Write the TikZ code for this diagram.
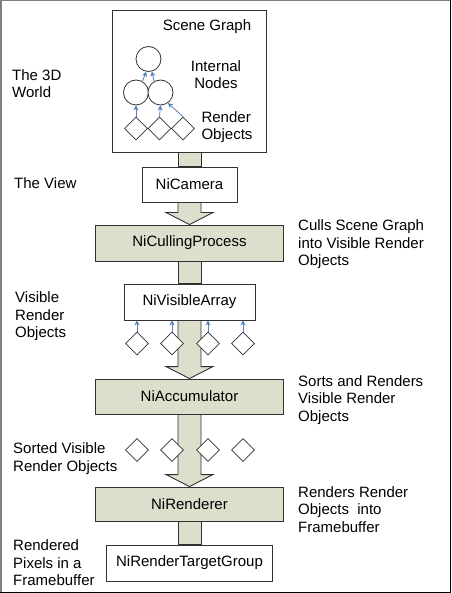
\documentclass[tikz,border=0pt]{standalone}
\usepackage{fontspec}
\setmainfont{Liberation Sans}
\usetikzlibrary{shapes.geometric, arrows.meta, calc, backgrounds}
\definecolor{boxfill}{RGB}{221,222,204}
\definecolor{linkblue}{RGB}{79,129,189}
\definecolor{edge}{RGB}{50,50,50}

% wide grey arrow from the bottom of #1 to the top of #2
\newcommand{\fatarrow}[2]{%
  \filldraw[shaft] ($(#1.south)+(-11.5,0)$) -- ($(#2.north)+(-11.5,-12)$) -- ($(#2.north)+(-23.5,-12)$)
    -- (#2.north) -- ($(#2.north)+(23.5,-12)$) -- ($(#2.north)+(11.5,-12)$) -- ($(#1.south)+(11.5,0)$);}
% plain grey bar between #1 and #2
\newcommand{\fatbar}[2]{%
  \filldraw[shaft] ($(#1.south)+(-11.5,0)$) -- ($(#2.north)+(-11.5,0)$) -- ($(#2.north)+(11.5,0)$) -- ($(#1.south)+(11.5,0)$);}

\begin{document}
\begin{tikzpicture}[x=1pt, y=-1pt, font=\fontsize{15}{17.5}\selectfont]
\tikzstyle{block} = [rectangle, draw=edge, line width=0.9pt, fill=white, inner sep=0pt, align=center]
\tikzstyle{process} = [block, fill=boxfill, minimum width=188pt]
\tikzstyle{note} = [inner sep=0pt, align=left, anchor=west]
\tikzstyle{obj} = [diamond, draw=edge, line width=0.8pt, fill=white, inner sep=0pt, minimum width=23pt, minimum height=23pt]
\tikzstyle{innernode} = [circle, draw=edge, line width=0.8pt, fill=white, inner sep=0pt, minimum size=25pt]
\tikzstyle{link} = [draw=linkblue, line width=0.8pt, -{Stealth[length=5pt,width=5pt]}]
\tikzstyle{shaft} = [draw=edge, line width=0.9pt, fill=boxfill]

\useasboundingbox (0,0) rectangle (451,593);

% pipeline
\node [block, minimum width=154pt, minimum height=142pt] (scene) at (189.5,81) {};
\node [block, minimum width=95pt, minimum height=35pt] (camera) at (189.5,184.5) {NiCamera};
\node [process, minimum height=36pt] (culling) at (189.5,243) {NiCullingProcess};
\node [block, minimum width=131pt, minimum height=36pt] (visarray) at (189.5,302) {NiVisibleArray};
\node [process, minimum height=35pt] (accum) at (189.5,396.5) {NiAccumulator};
\node [process, minimum height=34pt] (renderer) at (189.5,504) {NiRenderer};
\node [block, minimum width=166pt, minimum height=36pt] (target) at (189.5,563) {NiRenderTargetGroup};

\begin{scope}[on background layer]
\fatbar{scene}{camera}
\fatarrow{camera}{culling}
\fatbar{culling}{visarray}
\fatarrow{visarray}{accum}
\fatarrow{accum}{renderer}
\fatbar{renderer}{target}
\end{scope}

% scene graph
\node at (207,27) {Scene Graph};
\node [align=center] at (216,74.5) {Internal\\Nodes};
\node [align=left] at (227,127) {Render\\Objects};
\node [innernode] (root) at (148.5,59) {};
\node [innernode] (left) at (136,92.5) {};
\node [innernode] (right) at (160.5,92.5) {};
\node [obj] (s1) at (136,128.5) {};
\node [obj] (s2) at (159.5,128.5) {};
\node [obj] (s3) at (183,128.5) {};
\path [link] (left.60) -- (root.-100);
\path [link] (right.120) -- (root.-75);
\path [link] (s1.north) -- (left.south);
\path [link] (s2.north) -- (right.south);
\path [link] (s3.north) -- (right.-55);

% visible and sorted objects
\foreach \x [count=\i] in {137,172,208,243} {
  \node [obj] (v\i) at (\x,343.5) {};
  \path [link] (v\i.north) -- (v\i.north |- visarray.south);
  \node [obj] (o\i) at (\x,450) {};
}

% side notes
\node [note] (world) at (12,83.5) {The 3D\\World};
\node [note] (view) at (14,183) {The View};
\node [note] (visible) at (15,316.5) {Visible\\Render\\Objects};
\node [note] (sorted) at (13,458.5) {Sorted Visible\\Render Objects};
\node [note] (pixels) at (13,563) {Rendered\\Pixels in a\\Framebuffer};
\node [note] (culls) at (298,244.5) {Culls Scene Graph\\into Visible Render\\Objects};
\node [note] (sorts) at (298,400) {Sorts and Renders\\Visible Render\\Objects};
\node [note] (renders) at (298,509.5) {Renders Render\\Objects~ into\\Framebuffer};

% frame
\draw [gray, line width=1.5pt] (0.75,592) -- (0.75,0.75) -- (450,0.75);
\draw [black, line width=1.5pt] (450.25,0) -- (450.25,592.25) -- (0,592.25);
\end{tikzpicture}
\end{document}
